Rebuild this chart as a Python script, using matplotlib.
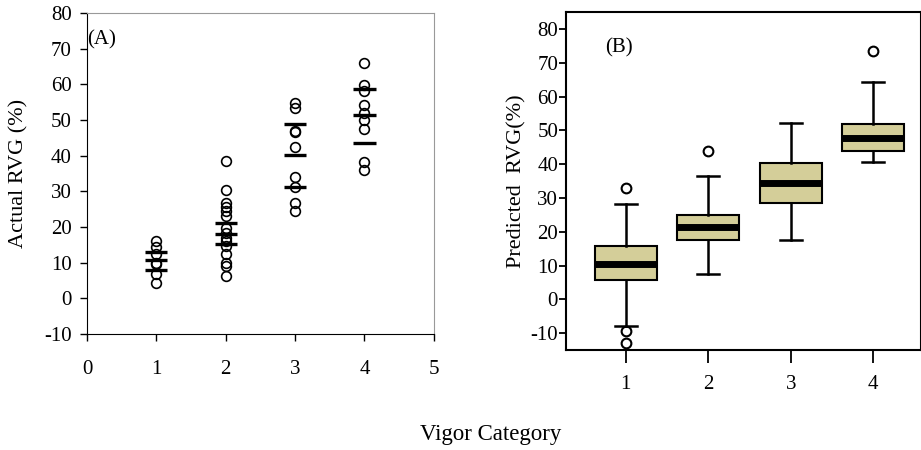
import numpy as np
import matplotlib
matplotlib.use("Agg")
from matplotlib import pyplot as plt

plt.rcParams['font.family'] = ['Liberation Serif', 'DejaVu Serif']
plt.rcParams['axes.unicode_minus'] = False

# panel A: observed RVG per vigor category
cat1 = [16.1, 14.3, 12.3, 10.0, 9.5, 6.7, 4.2]
cat2 = [38.6, 30.4, 26.6, 25.7, 24.5, 23.1, 19.8, 18.4, 17.0, 16.1, 14.7, 12.3, 10.0, 9.1, 6.3]
cat3 = [54.7, 53.5, 46.9, 46.7, 42.4, 34.1, 31.3, 26.8, 24.5]
cat4 = [66.1, 59.7, 58.1, 54.1, 52.1, 49.9, 47.4, 38.3, 35.9]
actual = [cat1, cat2, cat3, cat4]
# horizontal bars (upper, mean, lower) for each category
bar_hi = [13.1, 21.0, 48.8, 58.8]
bar_mid = [10.7, 18.1, 40.2, 51.3]
bar_lo = [7.8, 15.1, 31.2, 43.6]

# panel B: predicted RVG box stats
categories = [1, 2, 3, 4]
whis_lo = [-7.9, 7.4, 17.7, 40.6]
q1 = [5.8, 17.7, 28.6, 43.9]
med = [10.6, 21.4, 34.4, 47.8]
q3 = [15.7, 25.1, 40.3, 52.0]
whis_hi = [28.3, 36.4, 52.2, 64.3]
fliers = [[33.0, -9.4, -12.8], [43.9], [], [73.4]]

fs = 15

fig = plt.figure(figsize=(9.21, 4.5), dpi=100)

# ---- (A)
ax1 = fig.add_axes([0.0945, 0.258, 0.3765, 0.713])
for i, vals in enumerate(actual):
    ax1.plot([i + 1] * len(vals), vals, 'o', mfc='none', mec='black', ms=7, mew=1.2)
x = np.array(categories)
for arr in (bar_hi, bar_mid, bar_lo):
    ax1.hlines(arr, x - 0.16, x + 0.16, colors='black', lw=2.4)
ax1.set_xlim(0, 5)
ax1.set_ylim(-10, 80)
ax1.set_xticks(range(0, 6))
ax1.set_yticks(range(-10, 90, 10))
ax1.tick_params(direction='out', length=5, width=1, labelsize=fs)
ax1.tick_params(axis='x', pad=14)
ax1.tick_params(axis='y', pad=6)
for s in ('top', 'right'):
    ax1.spines[s].set_color('#999999')
ax1.set_ylabel('Actual RVG (%)', fontsize=fs + 1, labelpad=11)
ax1.text(0.0, 72.6, '(A)', fontsize=fs, va='center', ha='left')

# ---- (B)
ax2 = fig.add_axes([0.615, 0.222, 0.385, 0.751])
stats = []
for i in range(4):
    stats.append(dict(whislo=whis_lo[i], q1=q1[i], med=med[i], q3=q3[i],
                      whishi=whis_hi[i], fliers=fliers[i]))
ax2.bxp(stats, positions=categories, widths=0.75, patch_artist=True,
        boxprops=dict(facecolor='#d4ce99', edgecolor='black', lw=1.5),
        medianprops=dict(color='black', lw=5),
        whiskerprops=dict(color='black', lw=1.8),
        capprops=dict(color='black', lw=1.8),
        capwidths=0.27,
        flierprops=dict(marker='o', mfc='none', mec='black', ms=7, mew=1.5))
ax2.set_xlim(0.28, 4.58)
ax2.set_ylim(-15, 85)
ax2.set_yticks(range(-10, 90, 10))
ax2.set_xticks(categories)
ax2.tick_params(direction='out', width=1.3, labelsize=fs)
ax2.tick_params(axis='x', length=9, pad=9)
ax2.tick_params(axis='y', length=5, pad=1)
for s in ax2.spines.values():
    s.set_linewidth(1.5)
ax2.set_ylabel('Predicted  RVG(%)', fontsize=fs + 1, labelpad=3)
ax2.text(0.745, 74.5, '(B)', fontsize=fs, va='center', ha='left')

fig.text(0.533, 0.035, 'Vigor Category', fontsize=fs + 1.5, ha='center', va='center')

fig.savefig('out.png', dpi=100)
